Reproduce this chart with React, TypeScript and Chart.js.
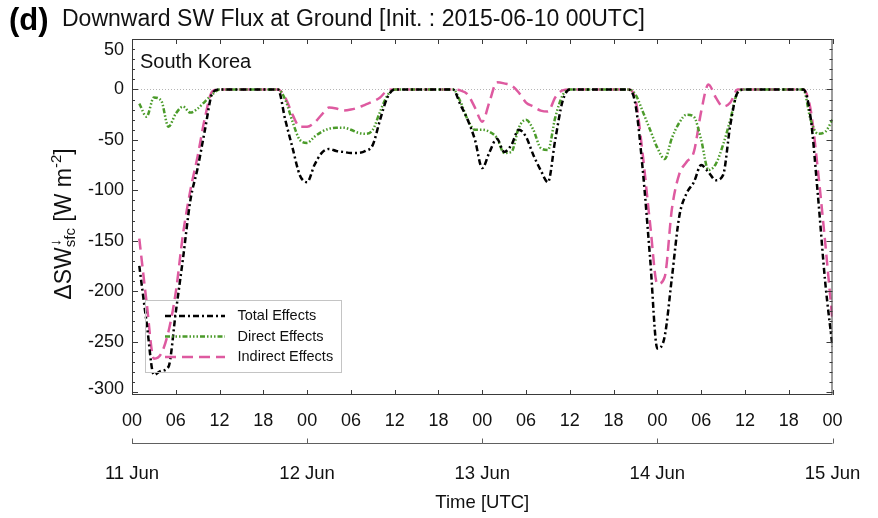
import React, { useEffect, useRef } from 'react';
import { Chart, registerables } from 'chart.js';

Chart.register(...registerables);

// ---------- data (hourly, hours after 11 Jun 00UTC) ----------
const HOURS = Array.from({ length: 96 }, (_, i) => i + 1);

const TOTAL_EFFECTS = [
  -175, -231, -283, -279, -275, -221, -167, -110, -78, -40, -4,
  0, 0, 0, 0, 0, 0, 0, 0, 0,
  -30, -58, -85, -92, -75, -63, -59, -61, -62, -63, -63, -61, -55, -30, -8,
  0, 0, 0, 0, 0, 0, 0, 0, 0,
  -15, -30, -50, -78, -62, -49, -62, -55, -40, -47, -65, -80, -92, -50, -12,
  0, 0, 0, 0, 0, 0, 0, 0, 0,
  -15, -80, -167, -257, -245, -186, -126, -103, -92, -75, -82, -90, -85, -35, -3,
  0, 0, 0, 0, 0, 0, 0, 0, 0,
  -28, -105, -191, -255,
];

const DIRECT_EFFECTS = [
  -14, -27, -8, -11, -37, -24, -17, -23, -19, -12, -5,
  0, 0, 0, 0, 0, 0, 0, 0, 0,
  -10, -32, -50, -53, -47, -42, -39, -38, -38, -40, -43, -44, -40, -22, -6,
  0, 0, 0, 0, 0, 0, 0, 0, 0,
  -12, -30, -40, -40, -42, -48, -63, -62, -38, -30, -40, -58, -60, -28, -6,
  0, 0, 0, 0, 0, 0, 0, 0, 0,
  -5, -22, -40, -58, -69, -48, -33, -25, -27, -50, -80, -74, -55, -30, -3,
  0, 0, 0, 0, 0, 0, 0, 0, 0,
  -30, -44, -42, -30,
];

const INDIRECT_EFFECTS = [
  -148, -211, -267, -262, -240, -201, -143, -100, -66, -28, -2,
  0, 0, 0, 0, 0, 0, 0, 0, 0,
  -8, -25, -37, -37, -33, -25, -18, -19, -21, -20, -18, -15, -12, -8, -1,
  0, 0, 0, 0, 0, 0, 0, 0, 0,
  -1, -5, -18, -32, -12, 7, 6, 4, -3, -13, -17, -21, -22, -8, -1,
  0, 0, 0, 0, 0, 0, 0, 0, 0,
  -10, -65, -133, -193, -186, -118, -84, -72, -62, -22, 5, -8, -17, -13, 0,
  0, 0, 0, 0, 0, 0, 0, 0, 0,
  -20, -80, -152, -230,
];

const SERIES_NAMES = ['Total Effects', 'Direct Effects', 'Indirect Effects'];

const X_TICK_HOURS = [0, 6, 12, 18, 24, 30, 36, 42, 48, 54, 60, 66, 72, 78, 84, 90, 96];
const X_TICK_LABELS = ['00', '06', '12', '18', '00', '06', '12', '18', '00', '06', '12', '18', '00', '06', '12', '18', '00'];
const DAY_HOURS = [0, 24, 48, 72, 96];
const DAY_LABELS = ['11 Jun', '12 Jun', '13 Jun', '14 Jun', '15 Jun'];
const Y_TICKS = [-300, -250, -200, -150, -100, -50, 0, 50];
const Y_MIN = -303;
const Y_MAX = 50;

const TITLE_TAG = '(d)';
const TITLE = 'Downward SW Flux at Ground [Init. : 2015-06-10 00UTC]';
const REGION = 'South Korea';
const X_TITLE = 'Time [UTC]';

const FONT = '"Liberation Sans", Arial, Helvetica, sans-serif';

const COLORS = ['#000000', '#4b9b2a', '#de5aa0'];
const DASHES = [
  [6, 3, 2, 3],
  [5, 2, 1.5, 2, 1.5, 2, 1.5, 2],
  [11, 6],
];

const decorPlugin = {
  id: 'decor',
  beforeDatasetsDraw(chart: any) {
    const { ctx, chartArea, scales } = chart;
    const y0 = Math.round(scales.y.getPixelForValue(0)) + 0.5;
    ctx.save();
    ctx.strokeStyle = '#b5b5b5';
    ctx.lineWidth = 1;
    ctx.setLineDash([1, 2]);
    ctx.beginPath();
    ctx.moveTo(chartArea.left, y0);
    ctx.lineTo(chartArea.right, y0);
    ctx.stroke();
    ctx.restore();
  },
  afterDatasetsDraw(chart: any) {
    const { ctx, chartArea, scales } = chart;
    const { left, right, top, bottom } = chartArea;
    const xs = scales.x;
    const ys = scales.y;
    ctx.save();
    ctx.setLineDash([]);

    // frame
    ctx.strokeStyle = '#3a3a3a';
    ctx.lineWidth = 1;
    ctx.strokeRect(left + 0.5, top + 0.5, right - left - 1, bottom - top - 1);

    // inward x ticks (top & bottom)
    ctx.beginPath();
    X_TICK_HOURS.forEach((h) => {
      const px = Math.round(xs.getPixelForValue(h)) + 0.5;
      ctx.moveTo(px, top);
      ctx.lineTo(px, top + 5);
      ctx.moveTo(px, bottom);
      ctx.lineTo(px, bottom - 5);
    });
    // inward y ticks (left & right), minor every 10
    for (let v = -300; v <= 50; v += 10) {
      const py = Math.round(ys.getPixelForValue(v)) + 0.5;
      const len = v % 50 === 0 ? 6 : 3;
      ctx.moveTo(left, py);
      ctx.lineTo(left + len, py);
      ctx.moveTo(right, py);
      ctx.lineTo(right - len, py);
    }
    ctx.stroke();

    // y tick labels (kept inside plot height like reference)
    ctx.fillStyle = '#111';
    ctx.font = `18px ${FONT}`;
    ctx.textAlign = 'right';
    ctx.textBaseline = 'middle';
    Y_TICKS.forEach((v) => {
      let py = ys.getPixelForValue(v);
      py = Math.max(py, top + 11);
      py = Math.min(py, bottom - 6);
      ctx.fillText(String(v), left - 8, py);
    });

    // y title with sub/superscripts
    ctx.save();
    ctx.translate(71, 224);
    ctx.rotate(-Math.PI / 2);
    ctx.textAlign = 'left';
    ctx.textBaseline = 'alphabetic';
    const big = `23px ${FONT}`;
    const small = `15px ${FONT}`;
    const measure = (t: string, f: string) => {
      ctx.font = f;
      return ctx.measureText(t).width;
    };
    const wA = measure('\u0394SW', big);
    const wSub = Math.max(measure('sfc', small), measure('\u2193', small));
    const wB = measure(' [W m', big);
    const wSup = measure('-2', small);
    const wC = measure(']', big);
    const total = wA + wSub + wB + wSup + wC;
    let cx = -total / 2;
    ctx.font = big;
    ctx.fillText('\u0394SW', cx, 0);
    cx += wA;
    ctx.font = small;
    ctx.fillText('\u2193', cx + 1, -11);
    ctx.fillText('sfc', cx, 4);
    cx += wSub;
    ctx.font = big;
    ctx.fillText(' [W m', cx, 0);
    cx += wB;
    ctx.font = small;
    ctx.fillText('-2', cx, -10);
    cx += wSup;
    ctx.font = big;
    ctx.fillText(']', cx, 0);
    ctx.restore();

    // region label
    ctx.fillStyle = '#111';
    ctx.font = `20px ${FONT}`;
    ctx.textAlign = 'left';
    ctx.textBaseline = 'alphabetic';
    ctx.fillText(REGION, left + 8, top + 29);

    // legend
    const bx = left + 13.5;
    const by = top + 261.5;
    ctx.strokeStyle = '#c4c4c4';
    ctx.lineWidth = 1;
    ctx.strokeRect(bx, by, 196, 72);
    chart.data.datasets.forEach((ds: any, i: number) => {
      const ry = by + 15.5 + i * 20.5;
      ctx.save();
      ctx.strokeStyle = ds.borderColor;
      ctx.lineWidth = ds.borderWidth;
      ctx.setLineDash(ds.borderDash);
      ctx.beginPath();
      ctx.moveTo(bx + 19.5, ry);
      ctx.lineTo(bx + 79.5, ry);
      ctx.stroke();
      ctx.restore();
      ctx.fillStyle = '#111';
      ctx.font = `14.5px ${FONT}`;
      ctx.textAlign = 'left';
      ctx.textBaseline = 'middle';
      ctx.fillText(ds.label, bx + 92, ry);
    });

    // date bracket
    const bY = 443.5;
    ctx.strokeStyle = '#606060';
    ctx.lineWidth = 1;
    ctx.beginPath();
    ctx.moveTo(xs.getPixelForValue(DAY_HOURS[0]), bY);
    ctx.lineTo(xs.getPixelForValue(DAY_HOURS[DAY_HOURS.length - 1]), bY);
    DAY_HOURS.forEach((h) => {
      const px = Math.round(xs.getPixelForValue(h)) + 0.5;
      ctx.moveTo(px, bY);
      ctx.lineTo(px, bY - 5);
    });
    ctx.stroke();

    ctx.fillStyle = '#111';
    ctx.font = `18.5px ${FONT}`;
    ctx.textAlign = 'center';
    ctx.textBaseline = 'middle';
    DAY_HOURS.forEach((h, i) => {
      ctx.fillText(DAY_LABELS[i], xs.getPixelForValue(h), 474);
    });
    ctx.fillText(X_TITLE, (left + right) / 2, 503);

    ctx.restore();
  },
};

export default function App() {
  const ref = useRef<HTMLCanvasElement>(null);

  useEffect(() => {
    const canvas = ref.current;
    if (!canvas) return;
    const seriesValues = [TOTAL_EFFECTS, DIRECT_EFFECTS, INDIRECT_EFFECTS];
    const datasets = SERIES_NAMES.map((name, i) => ({
      label: name,
      data: HOURS.map((h, j) => ({ x: h, y: seriesValues[i][j] })),
      borderColor: COLORS[i],
      backgroundColor: COLORS[i],
      borderWidth: 2.5,
      borderDash: DASHES[i],
      pointRadius: 0,
      fill: false,
      cubicInterpolationMode: 'monotone' as const,
      order: i,
    }));

    const chart = new Chart(canvas, {
      type: 'line',
      data: { datasets },
      options: {
        animation: false,
        responsive: false,
        devicePixelRatio: 1,
        layout: { padding: { top: 39, right: 45.5, left: 0, bottom: 0 } },
        plugins: {
          legend: { display: false },
          tooltip: { enabled: false },
          title: { display: false },
        },
        scales: {
          x: {
            type: 'linear',
            min: 0,
            max: 96,
            afterBuildTicks: (s: any) => {
              s.ticks = X_TICK_HOURS.map((v) => ({ value: v }));
            },
            afterFit: (s: any) => {
              s.height = 123;
            },
            ticks: {
              autoSkip: false,
              maxRotation: 0,
              padding: 15,
              color: '#111',
              font: { family: FONT, size: 18 },
              callback: (_v: any, idx: number) => X_TICK_LABELS[idx],
            },
            grid: { display: false, drawTicks: false },
            border: { display: false },
          },
          y: {
            type: 'linear',
            min: Y_MIN,
            max: Y_MAX,
            afterBuildTicks: (s: any) => {
              s.ticks = Y_TICKS.map((v) => ({ value: v }));
            },
            afterFit: (s: any) => {
              s.width = 132;
            },
            ticks: { display: false },
            grid: { display: false, drawTicks: false },
            border: { display: false },
          },
        },
      },
      plugins: [decorPlugin],
    });
    return () => chart.destroy();
  }, []);

  return (
    <div
      style={{
        position: 'absolute',
        left: 0,
        top: 0,
        width: 878,
        height: 518,
        background: '#fff',
        fontFamily: FONT,
        overflow: 'hidden',
      }}
    >
      <canvas ref={ref} width={878} height={518} style={{ display: 'block', width: 878, height: 518 }} />
      <div
        style={{
          position: 'absolute',
          left: 9,
          top: 4,
          fontSize: 31,
          fontWeight: 700,
          lineHeight: 1,
          color: '#000',
          whiteSpace: 'nowrap',
        }}
      >
        {TITLE_TAG}
      </div>
      <div
        style={{
          position: 'absolute',
          left: 62,
          top: 6.5,
          fontSize: 23,
          lineHeight: 1,
          color: '#111',
          whiteSpace: 'nowrap',
        }}
      >
        {TITLE}
      </div>
    </div>
  );
}
